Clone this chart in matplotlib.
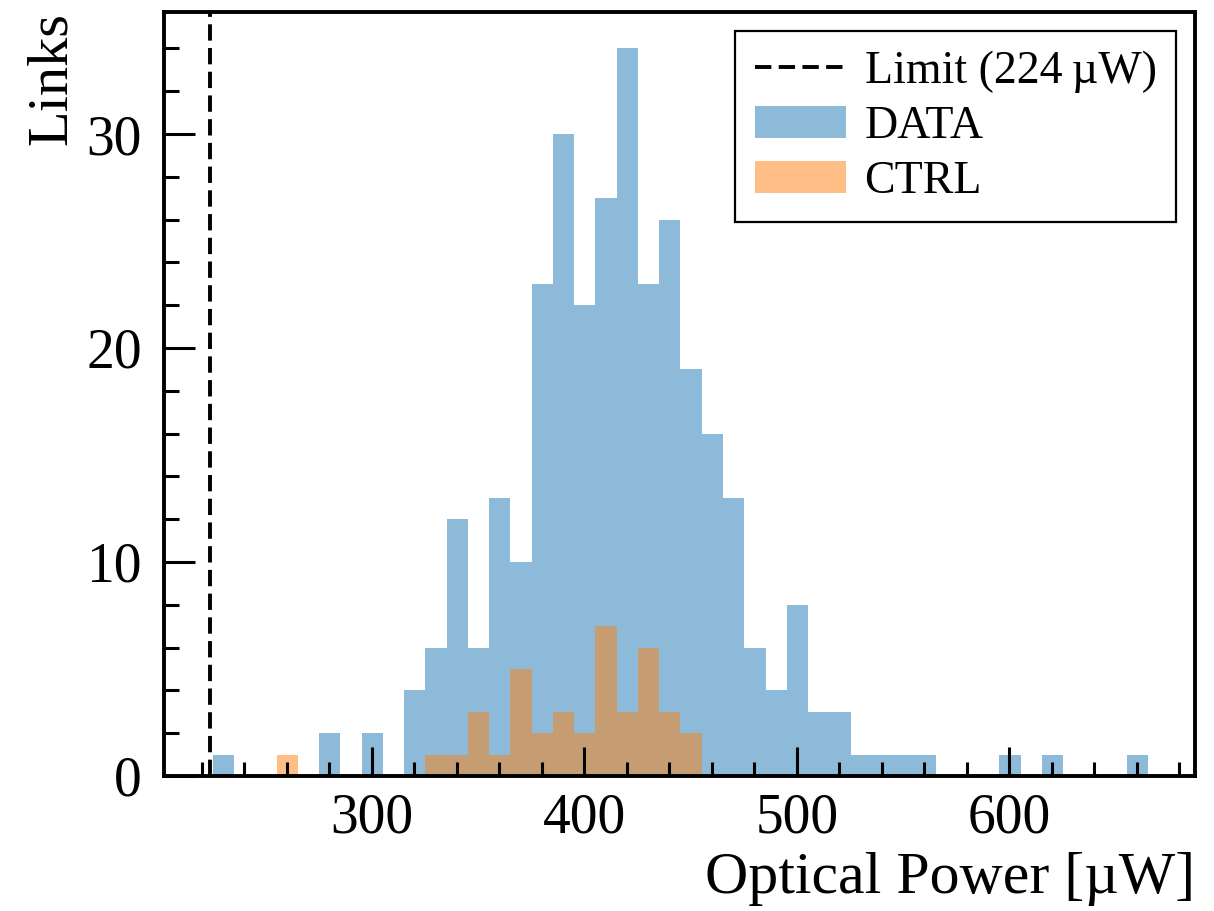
import numpy as np
import matplotlib
matplotlib.use("Agg")
import matplotlib.pyplot as plt
from matplotlib.ticker import MultipleLocator

# histogram binning (44 bins of ~10 uW)
bin_lo = 225.3
bin_hi = 665.3
n_bins = 44
limit_uw = 224

# counts per bin
data_counts = [1, 0, 0, 0, 0, 2, 0, 2, 0, 4,
               6, 12, 6, 13, 10, 23, 30, 22, 27, 34,
               23, 26, 19, 16, 13, 6, 4, 8, 3, 3,
               1, 1, 1, 1, 0, 0, 0, 1, 0, 1,
               0, 0, 0, 1]
ctrl_counts = [0, 0, 0, 1, 0, 0, 0, 0, 0, 0,
               1, 1, 3, 1, 5, 2, 3, 2, 7, 3,
               6, 3, 2, 0, 0, 0, 0, 0, 0, 0,
               0, 0, 0, 0, 0, 0, 0, 0, 0, 0,
               0, 0, 0, 0]

plt.rcParams["font.family"] = ["Liberation Serif", "DejaVu Serif"]

edges = np.linspace(bin_lo, bin_hi, n_bins + 1)
centers = 0.5 * (edges[:-1] + edges[1:])

fig = plt.figure(figsize=(12.14, 9.11), dpi=100)
ax = fig.add_axes([0.1351, 0.1482, 0.8493, 0.8386])

ax.axvline(limit_uw, color="black", ls=(0, (4.2, 1.9)), lw=2.8,
           label="Limit (224\u2009\u00b5W)")
ax.hist(centers, bins=edges, weights=data_counts, histtype="stepfilled",
        color="#1f77b4", alpha=0.5, lw=0, label="DATA")
ax.hist(centers, bins=edges, weights=ctrl_counts, histtype="stepfilled",
        color="#ff7f0e", alpha=0.5, lw=0, label="CTRL")

ax.set_xlim(202.3, 687.4)
ax.set_ylim(0, 35.7)

ax.xaxis.set_major_locator(MultipleLocator(100))
ax.xaxis.set_minor_locator(MultipleLocator(20))
ax.yaxis.set_major_locator(MultipleLocator(10))
ax.yaxis.set_minor_locator(MultipleLocator(2))

for s in ax.spines.values():
    s.set_linewidth(2.8)
ax.tick_params(which="both", direction="in", top=False, right=False,
               labelsize=40, width=2.2)
ax.tick_params(axis="x", which="major", length=21, pad=12)
ax.tick_params(axis="x", which="minor", length=10)
ax.tick_params(axis="y", which="major", length=22, pad=16)
ax.tick_params(axis="y", which="minor", length=11)

ax.set_xlabel("Optical Power [\u00b5W]", fontsize=43, loc="right", labelpad=5)
ax.set_ylabel("Links", fontsize=42, loc="top", labelpad=6)

leg = ax.legend(loc="upper right", fontsize=33, frameon=True, fancybox=False,
                edgecolor="black", framealpha=1, borderaxespad=0.42,
                handlelength=2.0, handletextpad=0.4, labelspacing=0.27,
                borderpad=0.42)
leg.get_frame().set_linewidth(1.6)

fig.savefig("out.png", dpi=100)
